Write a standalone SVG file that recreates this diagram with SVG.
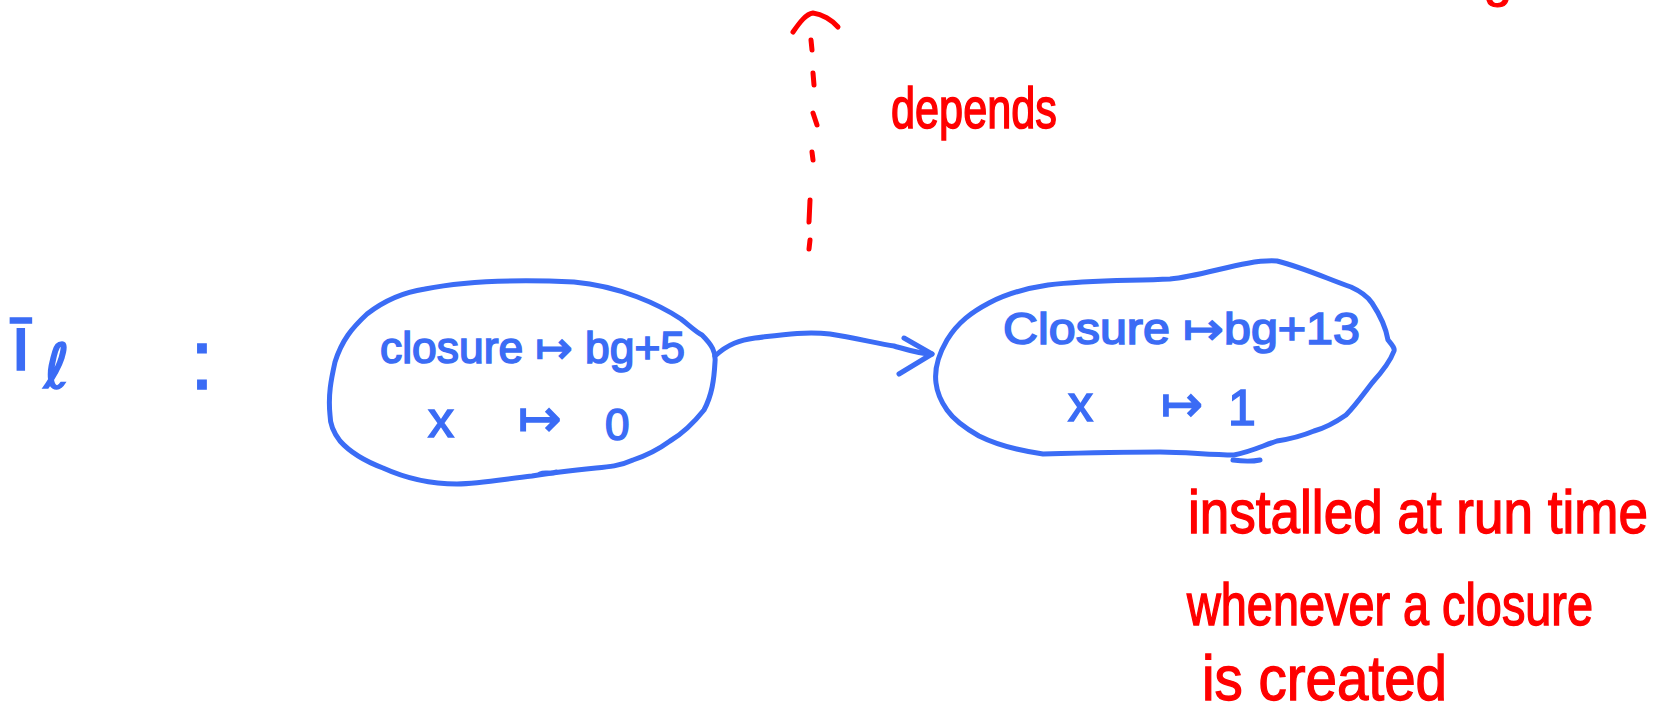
<svg xmlns="http://www.w3.org/2000/svg" width="1668" height="712" viewBox="0 0 1668 712">
<defs>
<style>
.blue{fill:none;stroke:#3b6cf5;stroke-width:5;stroke-linecap:round;stroke-linejoin:round}
.red{fill:none;stroke:#ff0000;stroke-width:5;stroke-linecap:round;stroke-linejoin:round}
.bt{fill:#3b6cf5;stroke:#3b6cf5;stroke-width:1.6;font-family:"Liberation Sans","DejaVu Sans",sans-serif}
.rt{fill:#ff0000;stroke:#ff0000;stroke-width:1.2;font-family:"Liberation Sans","DejaVu Sans",sans-serif}
</style>
</defs>
<rect width="1668" height="712" fill="#ffffff"/>

<g id="label-il">
<text class="bt" x="10" y="370" style="font-size:78px">ī</text>
<text class="bt" x="44" y="388" style="font-size:62px;font-family:'DejaVu Sans',sans-serif">ℓ</text>
<text class="bt" x="190" y="389" style="font-size:86px">:</text>
</g>

<g id="node-closure-bg5">
<path class="blue" d="M425,289 C470,280 530,280 574,282 C620,286 660,305 681,319 C690,326 696,332 702,335 C712,345 716,352 715,362 C714,380 712,395 704,410 C692,425 682,434 670,441 C655,452 645,456 633,460 C620,466 608,467 596,468 C575,470 555,472 532,476 C505,479 480,484 457,484 C430,484 405,478 383,468 C362,460 348,450 340,441 C333,432 330,424 330,415 C328,395 331,380 335,362 C342,340 352,328 367,314 C385,300 405,292 425,289"/>
<path class="blue" d="M540,474 C546,471 550,475 556,472"/>
<text class="bt" x="380" y="363" style="font-size:44px" textLength="305" lengthAdjust="spacingAndGlyphs">closure ↦ bg+5</text>
<text class="bt" x="428" y="437" style="font-size:52px">x</text>
<text class="bt" x="518" y="436" style="font-size:52px">↦</text>
<text class="bt" x="605" y="440" style="font-size:44px">0</text>
</g>

<g id="node-closure-bg13">
<path class="blue" d="M1048,285 C1090,280 1130,281 1170,279 C1205,276 1245,259 1277,261 C1305,268 1330,280 1351,287 C1362,292 1368,297 1372,303 C1380,315 1386,328 1388,340 C1392,345 1395,348 1394,351 C1390,362 1382,372 1372,383 C1362,396 1355,406 1346,415 C1336,422 1325,428 1314,431 C1302,436 1290,439 1277,441 C1262,446 1250,452 1234,455 C1210,455 1185,452 1160,452 C1120,452 1080,453 1043,454 C1015,450 995,444 979,436 C965,428 954,420 947,410 C940,400 937,392 936,383 C934,368 940,352 947,340 C958,322 972,312 989,303 C1008,293 1028,288 1048,285"/>
<path class="blue" d="M1233,460 C1240,461 1250,462 1260,460"/>
<text class="bt" x="1003" y="344" style="font-size:44px" textLength="357" lengthAdjust="spacingAndGlyphs">Closure ↦bg+13</text>
<text class="bt" x="1068" y="421" style="font-size:50px">x</text>
<text class="bt" x="1161" y="421" style="font-size:50px">↦</text>
<text class="bt" x="1228" y="425" style="font-size:50px">1</text>
</g>

<g id="connectors">
<path class="blue" d="M715,356 C728,344 740,340 755,338 C780,335 805,331 830,334 C855,338 880,344 894,346 C908,350 920,354 932,354"/>
<path class="blue" d="M904,338 L932,354 L899,374"/>
<g id="dashed-depends">
<path class="red" d="M811,40 L812,50 M813,73 L814,85 M813,113 L817,125 M812,152 L813,160 M810,200 L809,222 M810,240 L809,249"/>
<path class="red" d="M793,32 C800,22 806,14 813,13 C822,14 832,20 838,27"/>
</g>
</g>

<g id="annotations">
<text class="rt" transform="translate(891,128) scale(1,1.35)" x="0" y="0" font-size="43" textLength="166" lengthAdjust="spacingAndGlyphs">depends</text>
<text class="rt" transform="translate(1188,533) scale(1,1.15)" x="0" y="0" font-size="53" textLength="460" lengthAdjust="spacingAndGlyphs">installed at run time</text>
<text class="rt" transform="translate(1187,625) scale(1,1.25)" x="0" y="0" font-size="47" textLength="406" lengthAdjust="spacingAndGlyphs">whenever a closure</text>
<text class="rt" transform="translate(1202,700) scale(1,1.12)" x="0" y="0" font-size="56" textLength="245" lengthAdjust="spacingAndGlyphs">is created</text>
<text class="rt" x="1484" y="-3" font-size="50">g</text>
</g>
</svg>
